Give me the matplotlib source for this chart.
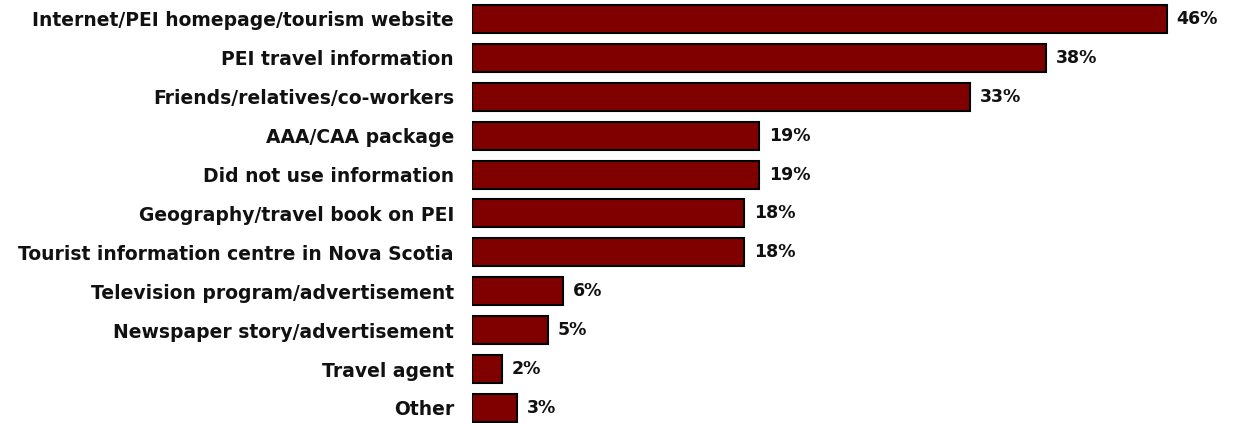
import numpy as np
import matplotlib.pyplot as plt

categories = [
    "Internet/PEI homepage/tourism website",
    "PEI travel information",
    "Friends/relatives/co-workers",
    "AAA/CAA package",
    "Did not use information",
    "Geography/travel book on PEI",
    "Tourist information centre in Nova Scotia",
    "Television program/advertisement",
    "Newspaper story/advertisement",
    "Travel agent",
    "Other",
]
values = [46, 38, 33, 19, 19, 18, 18, 6, 5, 2, 3]

fig = plt.figure(figsize=(12.34, 4.23), dpi=100)
ax = fig.add_axes([0.3825, 0.0, 0.612, 1.0])

y = np.arange(len(categories))
ax.barh(y, values, height=0.72, color="#800000", edgecolor="black", linewidth=1.5)

for yi, v in zip(y, values):
    ax.text(v + 0.65, yi, f"{v}%", va="center", ha="left",
            fontsize=12.5, fontweight="bold", color="#111111")

ax.set_yticks(y)
ax.set_yticklabels(categories, fontsize=13.5, fontweight="bold", color="#111111")
ax.tick_params(axis="y", length=0, pad=13)
ax.set_xticks([])
ax.set_xlim(0, 50)
ax.set_ylim(10.386, -0.488)
for s in ax.spines.values():
    s.set_visible(False)

fig.savefig("out.png", dpi=100)
